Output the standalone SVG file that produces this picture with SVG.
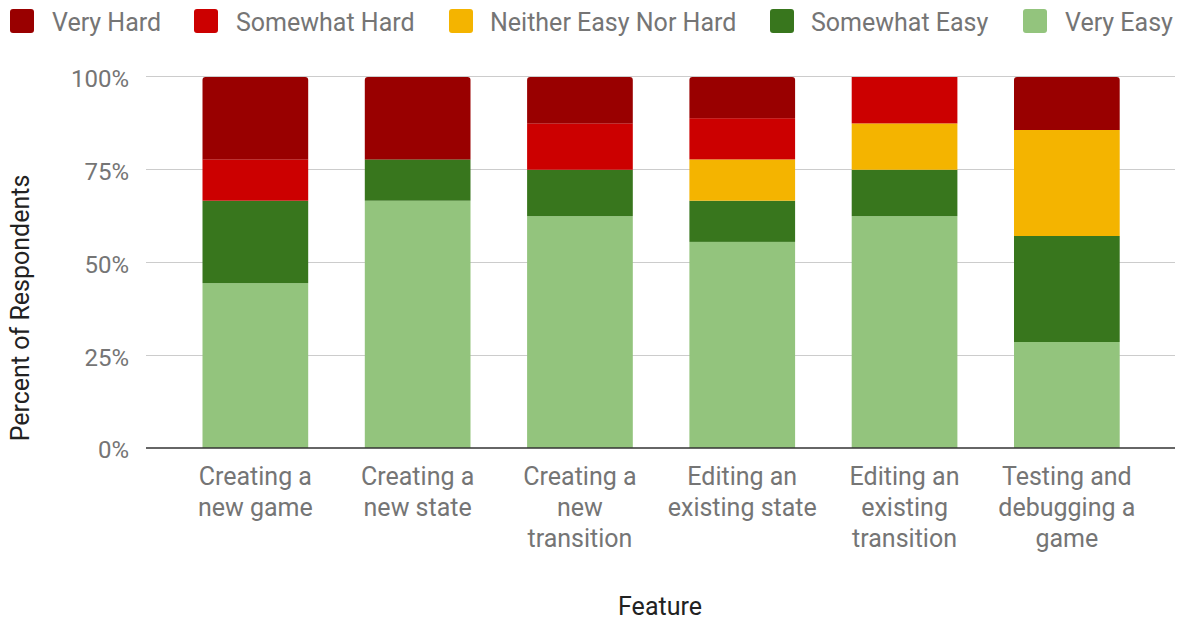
<svg xmlns="http://www.w3.org/2000/svg" width="1177" height="619" viewBox="0 0 1177 619">
<style>
text{font-family:Roboto,"Liberation Sans",sans-serif;font-size:25px;}
.lg{fill:#757575;}
.tick{fill:#757575;text-anchor:end;font-size:24px;}
.cat{fill:#757575;text-anchor:middle;}
.title{fill:#222;text-anchor:middle;}
.grid{stroke:#cccccc;stroke-width:1.2;}
.vh{fill:#990000;}
.sh{fill:#cc0000;}
.ne{fill:#f4b400;}
.se{fill:#38761d;}
.ve{fill:#93c47d;}
</style>
<rect width="1177" height="619" fill="#ffffff"/>
<g id="legend">
<g id="legend-very-hard"><rect class="vh" x="10" y="9" width="24" height="24" rx="3"/><text class="lg" x="52" y="31">Very Hard</text></g>
<g id="legend-somewhat-hard"><rect class="sh" x="194" y="9" width="24" height="24" rx="3"/><text class="lg" x="236" y="31">Somewhat Hard</text></g>
<g id="legend-neither"><rect class="ne" x="449" y="9" width="24" height="24" rx="3"/><text class="lg" x="490" y="31">Neither Easy Nor Hard</text></g>
<g id="legend-somewhat-easy"><rect class="se" x="770" y="9" width="24" height="24" rx="3"/><text class="lg" x="811" y="31">Somewhat Easy</text></g>
<g id="legend-very-easy"><rect class="ve" x="1023" y="9" width="24" height="24" rx="3"/><text class="lg" x="1065" y="31">Very Easy</text></g>
</g>
<g id="gridlines">
<line class="grid" x1="146" y1="76.5" x2="1175" y2="76.5"/>
<line class="grid" x1="146" y1="169.5" x2="1175" y2="169.5"/>
<line class="grid" x1="146" y1="262.5" x2="1175" y2="262.5"/>
<line class="grid" x1="146" y1="355.5" x2="1175" y2="355.5"/>
</g>
<g id="y-axis-labels">
<text class="tick" x="129" y="87">100%</text>
<text class="tick" x="129" y="180">75%</text>
<text class="tick" x="129" y="273">50%</text>
<text class="tick" x="129" y="366">25%</text>
<text class="tick" x="129" y="458">0%</text>
</g>
<g id="bar-new-game">
<rect class="ve" x="202.5" y="283.1" width="105.7" height="164.9"/>
<rect class="se" x="202.5" y="200.7" width="105.7" height="82.4"/>
<rect class="sh" x="202.5" y="159.4" width="105.7" height="41.3"/>
<path class="vh" d="M202.5 159.4 V80 Q202.5 77 205.5 77 H305.2 Q308.2 77 308.2 80 V159.4 Z"/>
</g>
<g id="bar-new-state">
<rect class="ve" x="364.8" y="200.7" width="105.7" height="247.3"/>
<rect class="se" x="364.8" y="159.4" width="105.7" height="41.3"/>
<path class="vh" d="M364.8 159.4 V80 Q364.8 77 367.8 77 H467.5 Q470.5 77 470.5 80 V159.4 Z"/>
</g>
<g id="bar-new-transition">
<rect class="ve" x="527.1" y="216.1" width="105.7" height="231.9"/>
<rect class="se" x="527.1" y="169.75" width="105.7" height="46.35"/>
<rect class="sh" x="527.1" y="123.4" width="105.7" height="46.35"/>
<path class="vh" d="M527.1 123.4 V80 Q527.1 77 530.1 77 H629.8 Q632.8 77 632.8 80 V123.4 Z"/>
</g>
<g id="bar-edit-state">
<rect class="ve" x="689.4" y="241.9" width="105.7" height="206.1"/>
<rect class="se" x="689.4" y="200.7" width="105.7" height="41.2"/>
<rect class="ne" x="689.4" y="159.4" width="105.7" height="41.3"/>
<rect class="sh" x="689.4" y="118.2" width="105.7" height="41.2"/>
<path class="vh" d="M689.4 118.2 V80 Q689.4 77 692.4 77 H792.1 Q795.1 77 795.1 80 V118.2 Z"/>
</g>
<g id="bar-edit-transition">
<rect class="ve" x="851.7" y="216.1" width="105.7" height="231.9"/>
<rect class="se" x="851.7" y="169.75" width="105.7" height="46.35"/>
<rect class="ne" x="851.7" y="123.4" width="105.7" height="46.35"/>
<rect class="sh" x="851.7" y="77" width="105.7" height="46.4"/>
</g>
<g id="bar-testing">
<rect class="ve" x="1014" y="342" width="105.7" height="106"/>
<rect class="se" x="1014" y="236" width="105.7" height="106"/>
<rect class="ne" x="1014" y="130" width="105.7" height="106"/>
<path class="vh" d="M1014 130 V80 Q1014 77 1017 77 H1116.7 Q1119.7 77 1119.7 80 V130 Z"/>
</g>
<g id="axis">
<line x1="146" y1="448" x2="1175" y2="448" stroke="#333333" stroke-width="1.6"/>
</g>
<g id="x-axis-labels">
<text class="cat" x="255.35" y="485">Creating a</text>
<text class="cat" x="255.35" y="516">new game</text>
<text class="cat" x="417.65" y="485">Creating a</text>
<text class="cat" x="417.65" y="516">new state</text>
<text class="cat" x="579.95" y="485">Creating a</text>
<text class="cat" x="579.95" y="516">new</text>
<text class="cat" x="579.95" y="547">transition</text>
<text class="cat" x="742.25" y="485">Editing an</text>
<text class="cat" x="742.25" y="516">existing state</text>
<text class="cat" x="904.55" y="485">Editing an</text>
<text class="cat" x="904.55" y="516">existing</text>
<text class="cat" x="904.55" y="547">transition</text>
<text class="cat" x="1066.85" y="485">Testing and</text>
<text class="cat" x="1066.85" y="516">debugging a</text>
<text class="cat" x="1066.85" y="547">game</text>
</g>
<g id="axis-titles">
<text class="title" x="660" y="615">Feature</text>
<text class="title" x="0" y="0" fill="#333" transform="translate(29 308) rotate(-90)">Percent of Respondents</text>
</g>
</svg>
